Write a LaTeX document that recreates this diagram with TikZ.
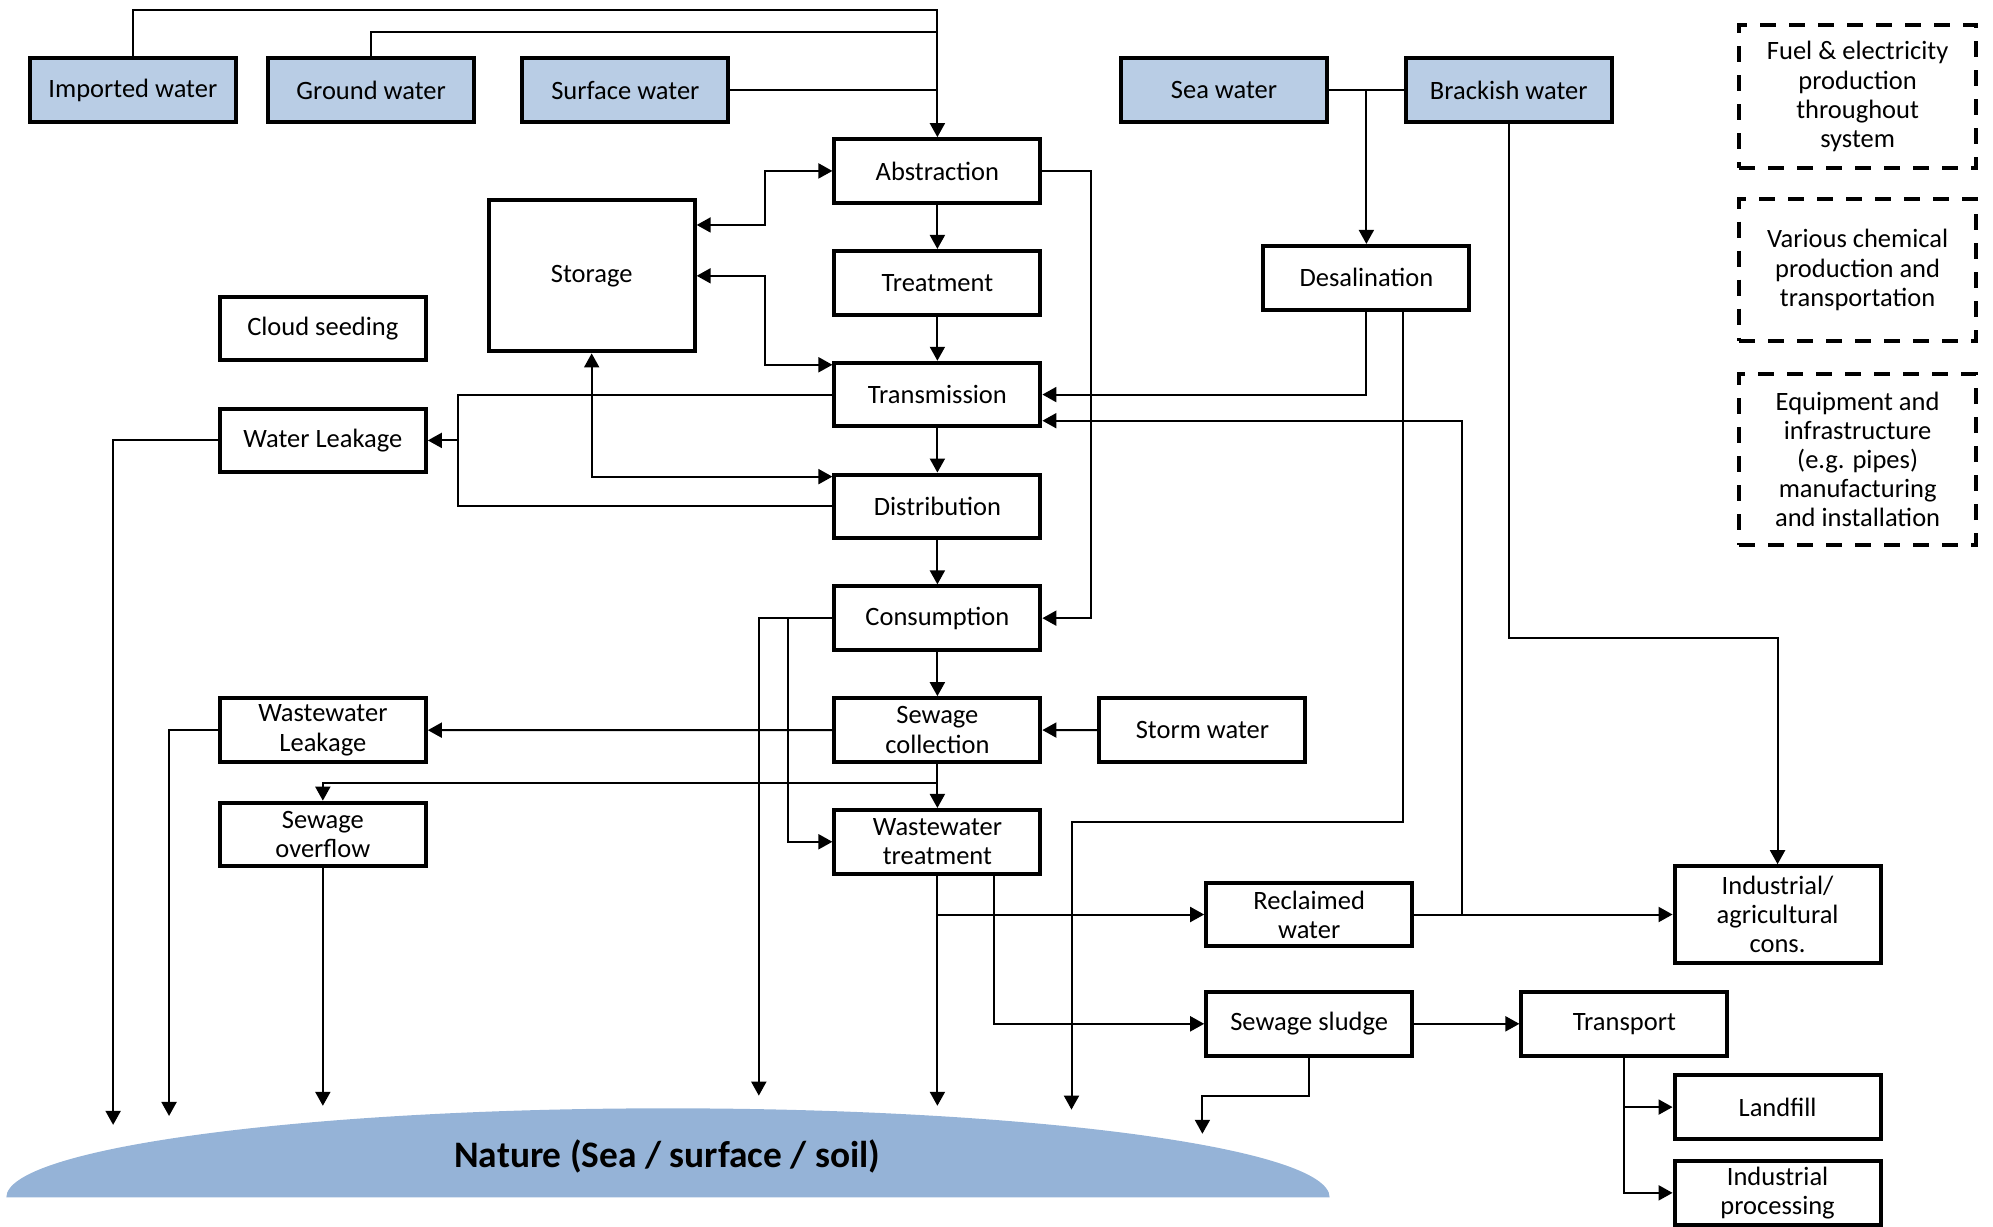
\documentclass[tikz,border=0pt]{standalone}
\usepackage{fontspec}
\setmainfont{Carlito}
\usepackage{tikz}
\usetikzlibrary{shapes,arrows.meta,positioning}
\definecolor{srcblue}{HTML}{B9CDE5}
\definecolor{natureblue}{HTML}{95B3D7}
\tikzstyle{process} = [rectangle, minimum width=103pt, minimum height=31.8pt, text centered, align=center, draw=black, line width=2pt, inner sep=2pt, font=\fontsize{13.25pt}{14.6pt}\selectfont]
\tikzstyle{source} = [process, fill=srcblue]
\tikzstyle{note} = [process, minimum width=118.2pt, dash pattern=on 8pt off 6.5pt]
\tikzstyle{arrow} = [line width=1pt,->,>={Triangle[length=7pt,width=7.5pt]}]

\begin{document}
\begin{tikzpicture}[x=0.6355pt, y=-0.6355pt, node distance=55.9pt, line width=1pt]
    \useasboundingbox (0,0) rectangle (1568,965);

    % Nature
    \fill[natureblue] (5,942) arc[start angle=180, end angle=0, x radius=330.8pt, y radius=44.5pt] -- cycle;
    \node (nature) at (525,910) [font=\bfseries\fontsize{18.7pt}{20pt}\selectfont] {Nature (Sea / surface / soil)};

    % Sources
    \node (imported) [source] at (104.5,71) {Imported water};
    \node (ground) [source] at (292,71) {Ground water};
    \node (surface) [source] at (492,71) {Surface water};
    \node (sea) [source] at (963,71) {Sea water};
    \node (brackish) [source] at (1187,71) {Brackish water};

    % Main chain
    \node (abstraction) [process] at (737.5,134.5) {Abstraction};
    \node (treatment) [process, below of=abstraction] {Treatment};
    \node (transmission) [process, below of=treatment] {Transmission};
    \node (distribution) [process, below of=transmission] {Distribution};
    \node (consumption) [process, below of=distribution] {Consumption};
    \node (collection) [process, below of=consumption] {Sewage\\collection};
    \node (wwtreatment) [process, below of=collection] {Wastewater\\treatment};

    % Other steps
    \node (storage) [process, minimum height=75.6pt] at (465.5,217) {Storage};
    \node (cloud) [process] at (254,258.5) {Cloud seeding};
    \node (leakage) [process] at (254,346.5) {Water Leakage};
    \node (desalination) [process] at (1075,218.5) {Desalination};
    \node (wwleakage) [process] at (254,574.5) {Wastewater\\Leakage};
    \node (overflow) [process] at (254,656.5) {Sewage\\overflow};
    \node (storm) [process] at (946,574.5) {Storm water};
    \node (reclaimed) [process] at (1030,719.5) {Reclaimed\\water};
    \node (sludge) [process] at (1030,805.5) {Sewage sludge};
    \node (transport) [process] at (1278,805.5) {Transport};
    \node (industrial) [process, minimum height=48.3pt] at (1398.5,719.5) {Industrial/\\agricultural\\cons.};
    \node (landfill) [process] at (1398.5,871) {Landfill};
    \node (processing) [process] at (1398.5,938.5) {Industrial\\processing};

    % Background systems
    \node (fuel) [note, minimum height=71.8pt] at (1461.5,76) {Fuel \& electricity\\production\\throughout\\system};
    \node (chemical) [note, minimum height=71.2pt] at (1461.5,212.5) {Various chemical\\production and\\transportation};
    \node (equipment) [note, minimum height=85.2pt] at (1461.5,361.5) {Equipment and\\infrastructure\\(e.g. pipes)\\manufacturing\\and installation};

    % Free ends
    \coordinate (topA) at (737.5,8);
    \coordinate (topB) at (737.5,25);
    \coordinate (lk) at (360,346.5);
    \coordinate (n1) at (89,885);
    \coordinate (n2) at (133,878);
    \coordinate (n3) at (254,870);
    \coordinate (n4) at (597,862);
    \coordinate (n5) at (737.5,870);
    \coordinate (n6) at (843,873);
    \coordinate (n7) at (946,892);

    % Arrows
    \draw[arrow] (imported.north) |- (topA) -- (abstraction.north);
    \draw (ground.north) |- (topB);
    \draw (surface.east) -- (surface.east -| topA);
    \foreach \a/\b in {abstraction/treatment, treatment/transmission, transmission/distribution, distribution/consumption, consumption/collection, collection/wwtreatment}
        \draw[arrow] (\a) -- (\b);

    \draw[arrow, <->] (abstraction.west) -- ++(-53,0) |- (storage.east |- 0,177);
    \draw[arrow, <->] (transmission.west |- 0,287) -- ++(-53,0) |- (storage.east);
    \draw[arrow, <->] (distribution.west |- 0,375) -| (storage.south);

    \draw (transmission.west) -| (lk) |- (distribution.west);
    \draw[arrow] (lk) -- (leakage.east);
    \draw[arrow] (leakage.west) -| (n1);
    \draw[arrow] (abstraction.east) -- ++(38,0) |- (consumption.east);

    \draw (sea) -- (brackish);
    \draw[arrow] (sea.east -| desalination.north) -- (desalination.north);
    \draw[arrow] (desalination.south) |- (transmission.east);
    \draw[arrow] (desalination.south -| 1104,0) |- (n6 |- 0,647) -- (n6);
    \draw[arrow] (brackish.south) |- (industrial.north |- 0,502) -- (industrial.north);
    \draw[arrow] (reclaimed) -- (industrial);
    \draw[arrow] (reclaimed.east -| 1150,0) |- (transmission.east |- 0,331);

    \draw[arrow] (consumption.west) -| (n4);
    \draw[arrow] (consumption.west -| 620,0) |- (wwtreatment.west);
    \draw[arrow] (storm) -- (collection);
    \draw[arrow] (collection) -- (wwleakage);
    \draw[arrow] (wwleakage.west) -| (n2);
    \draw[arrow] (collection.south |- 0,616) -| (overflow.north);
    \draw[arrow] (overflow.south) -- (n3);

    \draw[arrow] (wwtreatment.south) -- (n5);
    \draw[arrow] (wwtreatment.south |- reclaimed.west) -- (reclaimed.west);
    \draw[arrow] (wwtreatment.south -| 782,0) |- (sludge.west);
    \draw[arrow] (sludge) -- (transport);
    \draw[arrow] (sludge.south) |- (n7 |- 0,862) -- (n7);
    \draw[arrow] (transport.south) |- (landfill.west);
    \draw[arrow] (transport.south) |- (processing.west);

\end{tikzpicture}
\end{document}
